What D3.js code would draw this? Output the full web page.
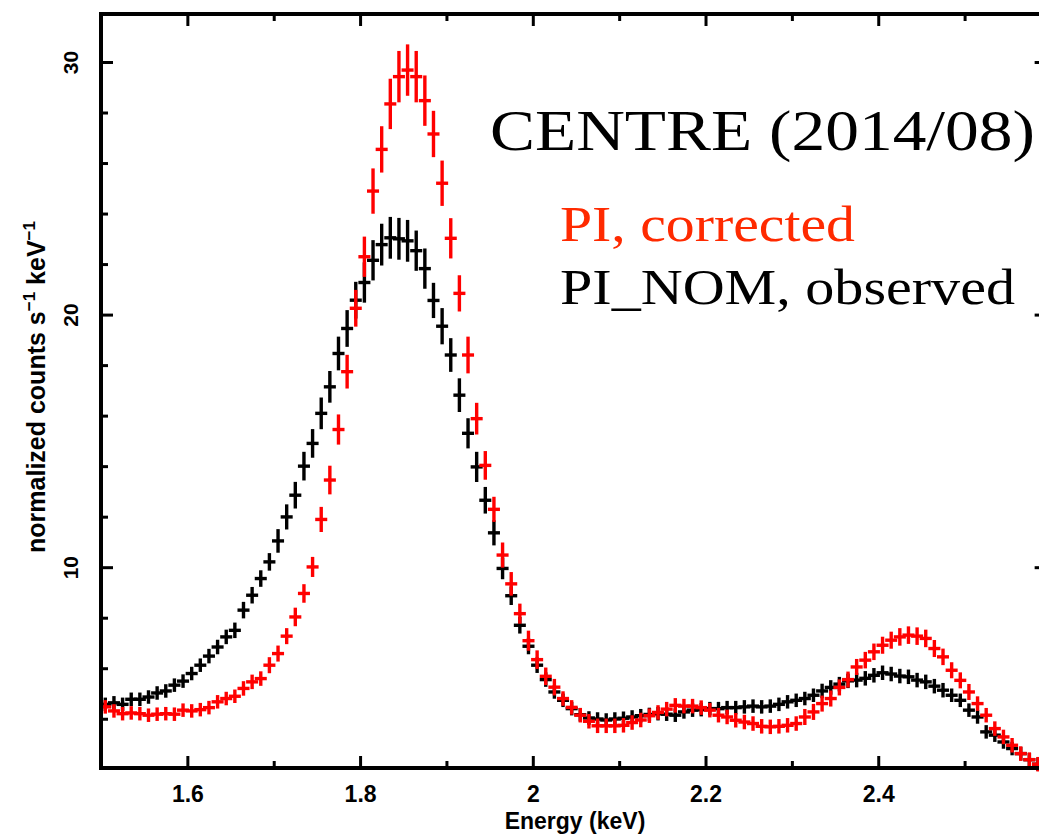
<!DOCTYPE html>
<html>
<head>
<meta charset="utf-8">
<script src="https://cdn.jsdelivr.net/npm/d3@7"></script>
<style>
  html, body { margin: 0; padding: 0; background: #fff; }
  svg { display: block; }
</style>
</head>
<body>
<div id="chart"></div>
<script>
// ---------------- data ----------------
// bin centres: first bin centre and bin width (keV)
const binStart = 1.505;
const binWidth = 0.01;

// PI_NOM, observed (black)
const observed = [
  4.57, 4.63, 4.57, 4.77, 4.77, 4.86, 5.02, 5.10, 5.33, 5.49,
  5.79, 6.12, 6.48, 6.84, 7.24, 7.50, 8.30, 8.89, 9.55, 10.21,
  11.04, 11.99, 12.85, 14.00, 14.90, 16.09, 17.14, 18.46, 19.45, 20.57,
  21.27, 22.15, 22.77, 23.04, 23.00, 22.92, 22.53, 21.82, 20.56, 19.54,
  18.40, 16.81, 15.30, 13.97, 12.65, 11.36, 9.95, 8.87, 7.70, 6.87,
  6.12, 5.55, 5.06, 4.73, 4.40, 4.16, 4.03, 3.99, 3.95, 3.99,
  4.02, 4.07, 4.12, 4.17, 4.20, 4.18, 4.14, 4.27, 4.34, 4.36,
  4.40, 4.40, 4.44, 4.44, 4.47, 4.50, 4.47, 4.50, 4.57, 4.67,
  4.73, 4.80, 4.93, 5.10, 5.24, 5.37, 5.50, 5.53, 5.60, 5.72,
  5.82, 5.77, 5.69, 5.66, 5.53, 5.46, 5.29, 5.13, 4.93, 4.73,
  4.34, 4.07, 3.48, 3.35, 3.08, 2.82, 2.62, 2.38, 2.20
];
const observedErr = [
  0.20, 0.20, 0.20, 0.20, 0.20, 0.20, 0.20, 0.20, 0.20, 0.20,
  0.20, 0.20, 0.22, 0.22, 0.22, 0.24, 0.26, 0.26, 0.26, 0.28,
  0.40, 0.43, 0.46, 0.50, 0.50, 0.56, 0.56, 0.60, 0.66, 0.66,
  0.73, 0.73, 0.76, 0.76, 0.76, 0.76, 0.73, 0.73, 0.63, 0.65,
  0.60, 0.60, 0.53, 0.53, 0.46, 0.43, 0.36, 0.30, 0.26, 0.25,
  0.24, 0.22, 0.20, 0.20, 0.20, 0.20, 0.20, 0.20, 0.20, 0.20,
  0.20, 0.20, 0.20, 0.20, 0.20, 0.20, 0.20, 0.20, 0.20, 0.20,
  0.20, 0.20, 0.20, 0.20, 0.20, 0.20, 0.20, 0.20, 0.20, 0.20,
  0.20, 0.20, 0.20, 0.22, 0.22, 0.22, 0.22, 0.22, 0.22, 0.22,
  0.22, 0.22, 0.22, 0.22, 0.22, 0.22, 0.22, 0.22, 0.20, 0.20,
  0.20, 0.20, 0.20, 0.20, 0.20, 0.20, 0.20, 0.20, 0.20
];

// PI, corrected (red)
const corrected = [
  4.47, 4.31, 4.20, 4.23, 4.20, 4.14, 4.18, 4.20, 4.18, 4.34,
  4.31, 4.36, 4.44, 4.67, 4.80, 4.89, 5.20, 5.46, 5.59, 6.12,
  6.58, 7.27, 8.03, 8.96, 10.01, 11.89, 13.45, 15.45, 17.74, 20.25,
  22.29, 24.89, 26.54, 28.34, 29.42, 29.68, 29.42, 28.47, 27.15, 25.20,
  23.02, 20.84, 18.40, 15.88, 14.03, 12.29, 10.48, 9.34, 8.16, 7.09,
  6.34, 5.68, 5.25, 4.80, 4.45, 4.14, 3.90, 3.72, 3.72, 3.72,
  3.74, 3.85, 3.95, 4.12, 4.25, 4.38, 4.53, 4.50, 4.50, 4.44,
  4.34, 4.14, 4.07, 3.94, 3.87, 3.81, 3.70, 3.68, 3.70, 3.74,
  3.81, 4.07, 4.27, 4.60, 4.80, 5.24, 5.55, 6.05, 6.32, 6.65,
  6.91, 7.11, 7.24, 7.31, 7.27, 7.18, 6.78, 6.45, 5.92, 5.52,
  5.06, 4.60, 4.14, 3.61, 3.28, 2.95, 2.62, 2.38, 2.20
];
const correctedErr = [
  0.20, 0.20, 0.20, 0.20, 0.20, 0.20, 0.20, 0.20, 0.20, 0.20,
  0.20, 0.20, 0.20, 0.20, 0.20, 0.20, 0.22, 0.22, 0.22, 0.25,
  0.25, 0.25, 0.30, 0.30, 0.33, 0.43, 0.50, 0.53, 0.60, 0.66,
  0.73, 0.83, 0.85, 0.93, 0.95, 0.95, 0.95, 0.93, 0.85, 0.83,
  0.73, 0.65, 0.66, 0.56, 0.50, 0.43, 0.43, 0.40, 0.33, 0.33,
  0.30, 0.28, 0.26, 0.22, 0.22, 0.22, 0.22, 0.22, 0.22, 0.22,
  0.22, 0.22, 0.22, 0.22, 0.22, 0.22, 0.22, 0.22, 0.22, 0.22,
  0.22, 0.22, 0.22, 0.22, 0.22, 0.22, 0.22, 0.22, 0.22, 0.22,
  0.22, 0.25, 0.25, 0.25, 0.25, 0.25, 0.25, 0.25, 0.26, 0.26,
  0.27, 0.27, 0.28, 0.28, 0.28, 0.28, 0.27, 0.26, 0.25, 0.25,
  0.25, 0.22, 0.22, 0.22, 0.22, 0.22, 0.22, 0.22, 0.22
];

// axis ticks
const xMajorTicks = [1.6, 1.8, 2.0, 2.2, 2.4];
const xTickLabels = ["1.6", "1.8", "2", "2.2", "2.4"];
const xMinorTicks = [1.7, 1.9, 2.1, 2.3, 2.5];
const yMajorTicks = [10, 20, 30];
const yTickLabels = ["10", "20", "30"];
const yMinorTicks = [4, 6, 8, 12, 14, 16, 18, 22, 24, 26, 28];

const xDomain = [1.5, 2.595];
const yDomain = [2.05, 31.9];

const titleText = "CENTRE (2014/08)";
const legendLabels = ["PI, corrected", "PI_NOM, observed"];

// ---------------- drawing ----------------
const W = 1039, H = 835;
const svg = d3.select("#chart").append("svg")
  .attr("width", W).attr("height", H);

const x = d3.scaleLinear().domain(xDomain).range([101, 101 + 863.6 * (xDomain[1] - xDomain[0])]);
const y = d3.scaleLinear().domain(yDomain).range([768, 14]);

const sansBold = "'Liberation Sans', Arial, Helvetica, sans-serif";
const serif = "'Liberation Serif', 'Times New Roman', serif";

function mkSeries(vals, errs) {
  return vals.map((v, i) => ({ e: binStart + i * binWidth, v: v, err: errs[i] }));
}
const blackData = mkSeries(observed, observedErr);
const redData = mkSeries(corrected, correctedErr);

const plot = svg.append("g");

function drawSeries(data, color) {
  const g = plot.append("g").attr("stroke", color).attr("stroke-width", 3.4)
    .attr("stroke-linecap", "square");
  g.selectAll("line.h").data(data).join("line").attr("class", "h")
    .attr("x1", d => x(d.e - binWidth / 2)).attr("x2", d => x(d.e + binWidth / 2))
    .attr("y1", d => y(d.v)).attr("y2", d => y(d.v));
  g.selectAll("line.v").data(data).join("line").attr("class", "v")
    .attr("x1", d => x(d.e)).attr("x2", d => x(d.e))
    .attr("y1", d => y(d.v - d.err)).attr("y2", d => y(d.v + d.err));
}
drawSeries(blackData, "#000");
drawSeries(redData, "#ff0000");

// axes (ticks inward)
function styleAxis(g) {
  g.select(".domain").remove();
  g.selectAll(".tick line").attr("stroke", "#000").attr("stroke-width", 3);
}
const bottomY = y(yDomain[0]), topY = y(yDomain[1]);
const leftX = x(xDomain[0]), rightX = x(xDomain[1]);

const xFmt = d => xTickLabels[xMajorTicks.indexOf(d)];
const yFmt = d => yTickLabels[yMajorTicks.indexOf(d)];

// bottom
const gB = svg.append("g").attr("transform", `translate(0,${bottomY})`)
  .call(d3.axisBottom(x).tickValues(xMajorTicks).tickSize(-12).tickPadding(18).tickFormat(xFmt));
styleAxis(gB);
gB.selectAll("text").attr("font-family", sansBold).attr("font-weight", "bold")
  .attr("font-size", 23).attr("fill", "#000");
svg.append("g").attr("transform", `translate(0,${bottomY})`)
  .call(d3.axisBottom(x).tickValues(xMinorTicks).tickSize(-7).tickFormat(""))
  .call(styleAxis);
// top
svg.append("g").attr("transform", `translate(0,${topY})`)
  .call(d3.axisTop(x).tickValues(xMajorTicks).tickSize(-12).tickFormat(""))
  .call(styleAxis);
svg.append("g").attr("transform", `translate(0,${topY})`)
  .call(d3.axisTop(x).tickValues(xMinorTicks).tickSize(-7).tickFormat(""))
  .call(styleAxis);
// left
const gL = svg.append("g").attr("transform", `translate(${leftX},0)`)
  .call(d3.axisLeft(y).tickValues(yMajorTicks).tickSize(-12).tickFormat(yFmt));
styleAxis(gL);
gL.selectAll("text")
  .attr("x", null).attr("dy", null)
  .attr("text-anchor", "middle")
  .attr("transform", "translate(-23,0) rotate(-90)")
  .attr("font-family", sansBold).attr("font-weight", "bold")
  .attr("font-size", 21).attr("fill", "#000");
svg.append("g").attr("transform", `translate(${leftX},0)`)
  .call(d3.axisLeft(y).tickValues(yMinorTicks).tickSize(-7).tickFormat(""))
  .call(styleAxis);
// right
svg.append("g").attr("transform", `translate(${rightX},0)`)
  .call(d3.axisRight(y).tickValues(yMajorTicks).tickSize(-12).tickFormat(""))
  .call(styleAxis);
svg.append("g").attr("transform", `translate(${rightX},0)`)
  .call(d3.axisRight(y).tickValues(yMinorTicks).tickSize(-7).tickFormat(""))
  .call(styleAxis);

// frame
svg.append("rect")
  .attr("x", leftX).attr("y", topY)
  .attr("width", rightX - leftX).attr("height", bottomY - topY)
  .attr("fill", "none").attr("stroke", "#000").attr("stroke-width", 4);

// axis titles
svg.append("text")
  .attr("x", 575).attr("y", 829)
  .attr("text-anchor", "middle")
  .attr("font-family", sansBold).attr("font-weight", "bold").attr("font-size", 23)
  .text("Energy (keV)");

const yt = svg.append("text")
  .attr("transform", `translate(45,${(topY + bottomY) / 2 - 4}) rotate(-90)`)
  .attr("text-anchor", "middle")
  .attr("font-family", sansBold).attr("font-weight", "bold").attr("font-size", 25);
yt.append("tspan").text("normalized counts s");
yt.append("tspan").attr("dy", -10).attr("font-size", 17).text("\u22121");
yt.append("tspan").attr("dy", 10).text(" keV");
yt.append("tspan").attr("dy", -10).attr("font-size", 17).text("\u22121");

// annotation
svg.append("text")
  .attr("x", 490).attr("y", 150)
  .attr("font-family", serif).attr("font-size", 58)
  .attr("textLength", 545).attr("lengthAdjust", "spacingAndGlyphs")
  .attr("fill", "#000")
  .text(titleText);
svg.append("text")
  .attr("x", 560).attr("y", 241)
  .attr("font-family", serif).attr("font-size", 50)
  .attr("textLength", 295).attr("lengthAdjust", "spacingAndGlyphs")
  .attr("fill", "#ff2a00")
  .text(legendLabels[0]);
svg.append("text")
  .attr("x", 560).attr("y", 304)
  .attr("font-family", serif).attr("font-size", 50)
  .attr("textLength", 455).attr("lengthAdjust", "spacingAndGlyphs")
  .attr("fill", "#000")
  .text(legendLabels[1]);
</script>
</body>
</html>
